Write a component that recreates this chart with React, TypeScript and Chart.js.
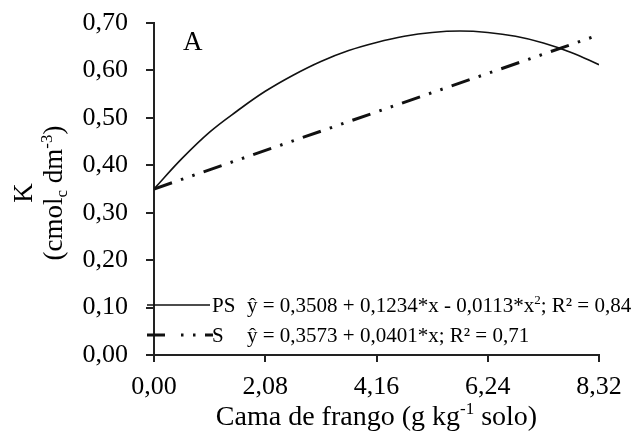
import React, { useEffect, useRef } from "react";
import { Chart, registerables } from "chart.js";

Chart.register(...registerables);

const FONT = "'Liberation Serif', 'Times New Roman', serif";

// Cama de frango doses (g kg-1 solo)
const xValues = [0, 0.52, 1.04, 1.56, 2.08, 2.6, 3.12, 3.64, 4.16, 4.68, 5.2, 5.72, 6.24, 6.76, 7.28, 7.8, 8.32];
// PS curve (K, cmolc dm-3)
const psValues = [0.35, 0.414, 0.47, 0.515, 0.556, 0.59, 0.619, 0.642, 0.659, 0.672, 0.68, 0.683, 0.68, 0.672, 0.658, 0.638, 0.612];
// S line endpoints
const sX = [0, 8.32];
const sValues = [0.35, 0.675];

const xTickValues = [0, 2.08, 4.16, 6.24, 8.32];
const yTickValues = [0, 0.1, 0.2, 0.3, 0.4, 0.5, 0.6, 0.7];

const psLabel = "PS";
const sLabel = "S";
const psEquation = [
  { t: "ŷ = 0,3508 + 0,1234*x - 0,0113*x" },
  { t: "2", sup: true },
  { t: "; R² = 0,84" },
];
const sEquation = [{ t: "ŷ = 0,3573 + 0,0401*x; R² = 0,71" }];
const xTitle = [{ t: "Cama de frango (g kg" }, { t: "-1", sup: true }, { t: " solo)" }];
const yTitle1 = [{ t: "K" }];
const yTitle2 = [
  { t: "(cmol" },
  { t: "c", sub: true },
  { t: " dm" },
  { t: "-3", sup: true },
  { t: ")" },
];
const panelLabel = "A";

type Part = { t: string; sup?: boolean; sub?: boolean };

function drawRich(ctx: CanvasRenderingContext2D, parts: Part[], x: number, y: number, size: number, align: "left" | "center") {
  const small = Math.round(size * 0.62);
  const widths = parts.map((p) => {
    ctx.font = `${p.sup || p.sub ? small : size}px ${FONT}`;
    return ctx.measureText(p.t).width;
  });
  const total = widths.reduce((a, b) => a + b, 0);
  let cx = align === "center" ? x - total / 2 : x;
  ctx.textAlign = "left";
  ctx.textBaseline = "alphabetic";
  parts.forEach((p, i) => {
    ctx.font = `${p.sup || p.sub ? small : size}px ${FONT}`;
    const dy = p.sup ? -size * 0.38 : p.sub ? size * 0.2 : 0;
    ctx.fillText(p.t, cx, y + dy);
    cx += widths[i];
  });
}

const overlay = {
  id: "overlay",
  afterDraw(chart: any) {
    const ctx: CanvasRenderingContext2D = chart.ctx;
    const { left, right, top, bottom } = chart.chartArea;
    ctx.save();
    ctx.fillStyle = "#000";
    ctx.strokeStyle = "#111";

    // panel label
    ctx.font = `27px ${FONT}`;
    ctx.textBaseline = "alphabetic";
    ctx.textAlign = "left";
    ctx.fillText(panelLabel, left + 29, top + 27);

    // legend
    ctx.lineWidth = 1.6;
    ctx.setLineDash([]);
    ctx.beginPath();
    ctx.moveTo(left - 7, bottom - 50);
    ctx.lineTo(left + 56, bottom - 50);
    ctx.stroke();
    ctx.lineWidth = 3;
    ctx.setLineDash([18, 16, 2.5, 9.5, 2.5, 9.5]);
    ctx.beginPath();
    ctx.moveTo(left - 7, bottom - 20);
    ctx.lineTo(left + 59, bottom - 20);
    ctx.stroke();
    ctx.setLineDash([]);
    drawRich(ctx, [{ t: psLabel }], left + 58, bottom - 43, 21, "left");
    drawRich(ctx, psEquation, left + 93, bottom - 43, 21, "left");
    drawRich(ctx, [{ t: sLabel }], left + 58, bottom - 13, 21, "left");
    drawRich(ctx, sEquation, left + 93, bottom - 13, 21, "left");

    // x title
    drawRich(ctx, xTitle, (left + right) / 2, 425, 28, "center");

    // y title (rotated)
    const cy = (top + bottom) / 2 + 4;
    ctx.save();
    ctx.translate(32, cy);
    ctx.rotate(-Math.PI / 2);
    drawRich(ctx, yTitle1, 0, 0, 27, "center");
    ctx.restore();
    ctx.save();
    ctx.translate(62, cy);
    ctx.rotate(-Math.PI / 2);
    drawRich(ctx, yTitle2, 0, 0, 27, "center");
    ctx.restore();

    ctx.restore();
  },
};

const fmt = (v: number) => v.toFixed(2).replace(".", ",");

export default function App() {
  const ref = useRef<HTMLCanvasElement | null>(null);
  useEffect(() => {
    if (!ref.current) return;
    const chart = new Chart(ref.current, {
      type: "line",
      data: {
        datasets: [
          {
            label: psLabel,
            data: xValues.map((x, i) => ({ x, y: psValues[i] })),
            borderColor: "#111",
            borderWidth: 1.6,
            pointRadius: 0,
            tension: 0.4,
            fill: false,
          },
          {
            label: sLabel,
            data: sX.map((x, i) => ({ x, y: sValues[i] })),
            borderColor: "#111",
            borderWidth: 3,
            borderDash: [19, 9.5, 2.5, 9.5, 2.5, 9.5],
            pointRadius: 0,
            fill: false,
          },
        ],
      },
      options: {
        responsive: false,
        animation: false,
        devicePixelRatio: 1,
        layout: { padding: { top: 23, right: 34, left: 0, bottom: 0 } },
        plugins: { legend: { display: false }, tooltip: { enabled: false } },
        scales: {
          x: {
            type: "linear",
            min: 0,
            max: 8.32,
            afterBuildTicks: (s: any) => {
              s.ticks = xTickValues.map((v) => ({ value: v }));
            },
            afterFit: (s: any) => {
              s.height = 77;
            },
            ticks: {
              callback: (v: any) => fmt(Number(v)),
              font: { family: FONT, size: 26 },
              color: "#000",
              padding: 10,
              maxRotation: 0,
              autoSkip: false,
            },
            grid: { display: true, drawOnChartArea: false, drawTicks: true, tickLength: 7, color: "#222", lineWidth: 2 },
            border: { display: true, color: "#222", width: 2 },
          },
          y: {
            min: 0,
            max: 0.7,
            afterBuildTicks: (s: any) => {
              s.ticks = yTickValues.map((v) => ({ value: v }));
            },
            afterFit: (s: any) => {
              s.width = 154;
              s.paddingTop = 0;
              s.paddingBottom = 0;
            },
            ticks: {
              callback: (v: any) => fmt(Number(v)),
              font: { family: FONT, size: 26 },
              color: "#000",
              padding: 18,
              autoSkip: false,
            },
            grid: { display: true, drawOnChartArea: false, drawTicks: true, tickLength: 8, color: "#222", lineWidth: 2 },
            border: { display: true, color: "#222", width: 2 },
          },
        },
      },
      plugins: [overlay],
    } as any);
    return () => chart.destroy();
  }, []);
  return (
    <div style={{ position: "fixed", left: 0, top: 0, width: 633, height: 432, background: "#fff" }}>
      <canvas ref={ref} width={633} height={432} />
    </div>
  );
}
